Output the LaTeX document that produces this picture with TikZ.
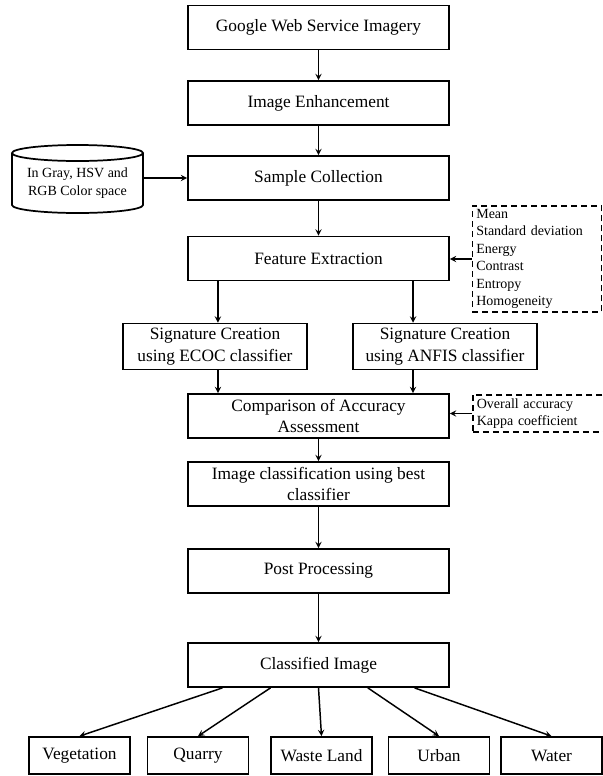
\documentclass[tikz,border=0pt]{standalone}
\usepackage{fontspec}
\setmainfont{Liberation Serif}
\usetikzlibrary{shapes.geometric, arrows}
\tikzstyle{rect} = [rectangle, minimum width=195.75pt, minimum height=33pt, text centered, align=center, draw=black, line width=1.3pt, font=\fontsize{13}{16.3}\selectfont]
\tikzstyle{sigrect} = [rect, minimum width=138pt, minimum height=33.75pt]
\tikzstyle{classrect} = [rect, minimum width=75.75pt, minimum height=27.75pt]
\tikzstyle{dashrect} = [rectangle, draw=black, dash pattern=on 4.5pt off 3pt, line width=1.2pt, align=left, inner xsep=3pt, inner ysep=1.5pt, font=\fontsize{10.5}{13.1}\selectfont]
\tikzstyle{blank} = [rectangle, align=center, font=\fontsize{10.5}{13.3}\selectfont]
\tikzstyle{arrow} = [->,>=stealth, line width=1.1pt]

\begin{document}
\begin{tikzpicture}[x=0.75pt, y=-0.75pt]
    \useasboundingbox (0,0) rectangle (603,776);
    \node (google) [rect] at (318.5,27.5) {Google Web Service Imagery};
    \node (enhance) [rect] at (318.5,103) {Image Enhancement};
    \node (sample) [rect] at (318.5,178) {Sample Collection};
    \node (feature) [rect] at (318.5,258.5) {Feature Extraction};
    \node (ecoc) [sigrect] at (215,346.5) {Signature Creation\\using ECOC classifier};
    \node (anfis) [sigrect] at (445,346.5) {Signature Creation\\using ANFIS classifier};
    \node (compare) [rect] at (318.5,416) {Comparison of Accuracy\\Assessment};
    \node (best) [rect] at (318.5,484) {Image classification using best\\classifier};
    \node (post) [rect] at (318.5,571) {Post Processing};
    \node (classified) [rect] at (318.5,665) {Classified Image};

    % colour space store
    \draw [line width=1.3pt] (77.5,153) ellipse [x radius=65.5, y radius=8];
    \draw [line width=1.3pt] (12,153) -- (12,205) arc [start angle=180, end angle=0, x radius=65.5, y radius=8] -- (143,153);
    \node (space) [blank, minimum width=98pt] at (77.5,183) {In Gray, HSV and\\RGB Color space};

    % side notes
    \node (measures) [dashrect, text width=91pt, minimum height=79.5pt] at (537,259) {Mean\\Standard deviation\\Energy\\Contrast\\Entropy\\Homogeneity};
    \node (accuracy) [dashrect, text width=100pt, minimum height=27.75pt, anchor=west] at (472,413.5) {Overall accuracy\\Kappa coefficient};

    \node (veg) [classrect] at (79.5,755.5) {Vegetation};
    \node (quarry) [classrect] at (198,755.5) {Quarry};
    \node (waste) [classrect] at (321.5,755.5) {Waste Land};
    \node (urban) [classrect] at (439,755.5) {Urban};
    \node (water) [classrect] at (551.5,755.5) {Water};

    \draw [arrow] (google) -- (enhance);
    \draw [arrow] (enhance) -- (sample);
    \draw [arrow] (sample) -- (feature);
    \draw [arrow] (space.east |- sample.west) -- (sample.west);
    \draw [arrow] (measures.west) -- (measures.west -| feature.east);
    \coordinate (fl) at ([xshift=-75.4pt]feature.south);
    \coordinate (fr) at ([xshift=70.9pt]feature.south);
    \draw [arrow] (fl) -- (fl |- ecoc.north);
    \draw [arrow] (fr) -- (fr |- anfis.north);
    \draw [arrow] (fl |- ecoc.south) -- (fl |- compare.north);
    \draw [arrow] (fr |- anfis.south) -- (fr |- compare.north);
    \draw [arrow] (accuracy.west) -- (accuracy.west -| compare.east);
    \draw [arrow] (compare) -- (best);
    \draw [arrow] (best) -- (post);
    \draw [arrow] (post) -- (classified);
    \foreach \name/\shift in {veg/-72pt, quarry/-36pt, waste/0pt, urban/37pt, water/72pt}
        \draw [arrow] ([xshift=\shift]classified.south) -- (\name.north);
\end{tikzpicture}
\end{document}
